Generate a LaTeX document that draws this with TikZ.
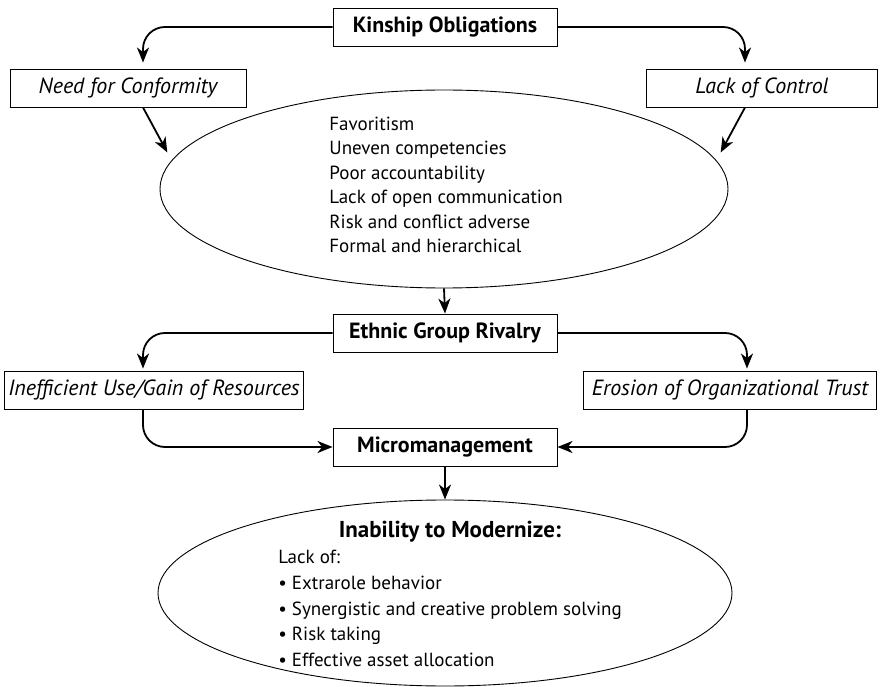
\documentclass[tikz,border=0pt]{standalone}
\usepackage{fontspec}
\setmainfont{PT Sans}
\usetikzlibrary{arrows.meta,shapes.geometric,positioning}

\tikzstyle{headbox} = [draw, line width=0.9pt, rectangle, inner sep=0pt, minimum width=224pt, minimum height=38pt, font=\bfseries\fontsize{22}{26}\selectfont]
\tikzstyle{causebox} = [draw, line width=0.9pt, rectangle, inner sep=0pt, minimum height=38pt, font=\itshape\fontsize{22}{26}\selectfont]
\tikzstyle{bubble} = [draw, line width=0.9pt, ellipse, inner sep=0pt]
\tikzstyle{bubbletext} = [inner sep=0pt, font=\fontsize{19}{24.5}\selectfont]
\tikzstyle{conn} = [line width=1.8pt, rounded corners=22pt, -{Stealth[length=15pt, width=12pt, inset=4.5pt]}]

\begin{document}
\begin{tikzpicture}[x=1pt, y=-1pt]
	\useasboundingbox (0,0) rectangle (884,687);

	% top part
	\node [headbox] (kinship) at (445,27) {Kinship Obligations};
	\node [causebox, minimum width=236pt] (conformity) at (128,88) {Need for Conformity};
	\node [causebox, minimum width=231pt] (control) at (762,88) {Lack of Control};
	\node [bubble, minimum width=568pt, minimum height=198pt] (traits) at (444,189) {};
	\node [bubbletext, align=left] (traitlist) at (446,185) {%
		Favoritism\\
		Uneven competencies\\
		Poor accountability\\
		Lack of open communication\\
		Risk and conflict adverse\\
		Formal and hierarchical};

	\draw [conn, shorten >=6pt] (kinship.west) -| ([xshift=15pt]conformity.north);
	\draw [conn, shorten >=6pt] (kinship.east) -| ([xshift=-17pt]control.north);
	\draw [conn, shorten >=9pt] ([xshift=15pt]conformity.south) -- (traits.174);
	\draw [conn, shorten >=9pt] ([xshift=-17pt]control.south) -- (traits.6);

	% middle part
	\node [headbox] (rivalry) at (445,333) {Ethnic Group Rivalry};
	\node [causebox, minimum width=299pt] (resources) at (154,390) {Inefficient Use/Gain of Resources};
	\node [causebox, minimum width=293pt] (trust) at (730,390) {Erosion of Organizational Trust};
	\node [headbox] (micro) at (445,447) {Micromanagement};

	\draw [conn] (traits.south) -- (rivalry.north);
	\draw [conn, shorten >=2pt] (rivalry.west) -| ([xshift=-11pt]resources.north);
	\draw [conn, shorten >=2pt] (rivalry.east) -| ([xshift=17pt]trust.north);
	\draw [conn] ([xshift=-11pt]resources.south) |- (micro.west);
	\draw [conn] ([xshift=17pt]trust.south) |- (micro.east);

	% bottom part
	\node [bubble, minimum width=574pt, minimum height=186pt] (modern) at (445,593) {};
	\node [bubbletext, font=\fontsize{19}{25.8}\selectfont] (modernlist) at (450,597) {%
		\begin{tabular}{@{}l@{}}
			\multicolumn{1}{@{}c@{}}{\bfseries\fontsize{23}{25.8}\selectfont Inability to Modernize:}\\
			Lack of:\\
			• Extrarole behavior\\
			• Synergistic and creative problem solving\\
			• Risk taking\\
			• Effective asset allocation
		\end{tabular}};

	\draw [conn] (micro.south) -- (modern.north);
\end{tikzpicture}
\end{document}
